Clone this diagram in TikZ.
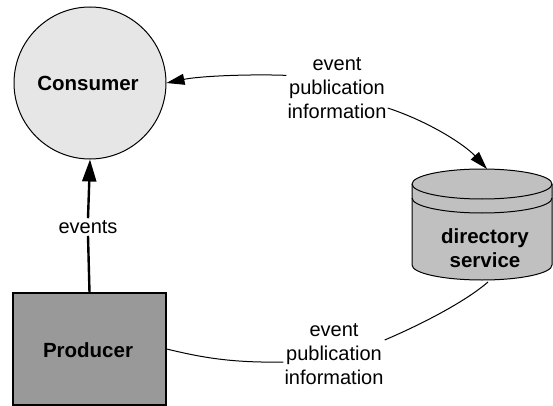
\documentclass[tikz,border=0pt]{standalone}
\usepackage{fontspec}
\setmainfont{Liberation Sans}
\usetikzlibrary{arrows.meta}
\definecolor{consumerfill}{HTML}{E6E6E6}
\definecolor{producerfill}{HTML}{999999}
\definecolor{dirfill}{HTML}{C0C0C0}
\tikzset{
  lbl/.style={font=\fontsize{20}{24}\selectfont, align=center, inner sep=1pt},
  bold/.style={font=\fontsize{20.5}{24}\selectfont\bfseries, align=center},
  thinlink/.style={draw=black, line width=1pt},
  thintip/.style={-{Triangle[length=18pt,width=11pt]}},
}
\begin{document}
\begin{tikzpicture}[x=1pt,y=1pt]
  \useasboundingbox (0,0) rectangle (553,-406);

  % consumer and producer
  \node[circle, draw, line width=1pt, fill=consumerfill, minimum size=152pt, inner sep=0pt] (cons) at (90,-83) {};
  \node[bold] (constxt) at (88,-83) {Consumer};
  \node[draw, line width=1.2pt, fill=producerfill, minimum width=153pt, minimum height=112pt, inner sep=0pt] (prod) at (89.5,-349) {};
  \node[bold] (prodtxt) at (88,-350) {Producer};

  % directory service cylinder
  \path[draw, line width=1pt, fill=dirfill]
    (412,-184) -- (412,-265)
    arc[start angle=180, end angle=360, x radius=70, y radius=15]
    -- (552,-184)
    arc[start angle=0, end angle=180, x radius=70, y radius=15] -- cycle;
  \draw[line width=1pt] (412,-184) arc[start angle=180, end angle=360, x radius=70, y radius=15];
  \draw[line width=1pt] (412,-198) arc[start angle=180, end angle=360, x radius=70, y radius=15];
  \node[bold] (dirtxt) at (485,-248) {directory\\service};
  \coordinate (dirtop) at (487,-169);
  \coordinate (dirbot) at (488,-282);

  % labels
  \node[lbl] (pub1) at (337,-88) {event\\publication\\information};
  \node[lbl] (pub2) at (334,-354) {event\\publication\\information};
  \node[lbl, fill=white, inner sep=2pt] (ev) at (88,-227) {events};

  % events flow
  \draw[line width=2.4pt] (prod.north) -- (ev.south);
  \draw[line width=2.4pt, -{Triangle[length=22pt,width=14pt]}] (ev.north) -- (cons.south);

  % publication information links
  \draw[thinlink, thintip] (pub1.166) .. controls (250,-74) and (200,-76) .. (cons.east);
  \draw[thinlink, thintip] ([yshift=-20pt]pub1.east) .. controls (430,-122) and (465,-145) .. (dirtop);
  \draw[thinlink] (dirbot) .. controls (465,-302) and (420,-325) .. ([yshift=14pt]pub2.east);
  \draw[thinlink] (prod.east) .. controls (200,-357) and (230,-363) .. ([yshift=-8pt]pub2.west);
\end{tikzpicture}
\end{document}
